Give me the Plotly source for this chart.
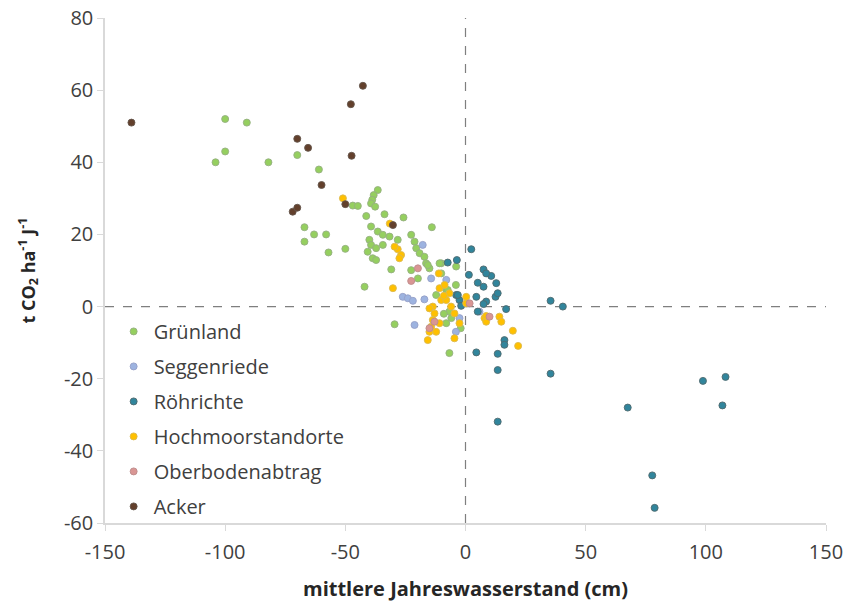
import plotly.graph_objects as go

# ---- data (x: mittlerer Jahreswasserstand cm, y: t CO2 ha-1 J-1) ----
gruen_x = [-100, -91, -100, -104, -82, -70, -61, -67, -67, -63, -58, -57, -50, -42, -14,
           -36.5, -38.2, -38.8, -39.3, -37.6, -46.9, -44.8, -41.3, -33.7, -25.8, -39.3, -36.5,
           -34.4, -31.6, -28.2, -40, -39.3, -37.2, -34.4, -40.7, -38.6, -37.2, -22.6, -21.2,
           -20.5, -19.1, -17.1, -16.4, -15, -30.9, -22.6, -10.1, -3.9, -29.5, -6.7, -10.8, -8,
           -15.7, -10.1, -19.8, -7.4, -5.9, -8, -6.7, -12.2, -4, -2, -9]
gruen_y = [52, 51, 43, 40, 40, 42, 38, 22, 18, 20, 20, 15, 16, 5.5, 22,
           32.3, 30.9, 29.6, 28.6, 27.7, 28, 27.9, 25.1, 25.6, 24.7, 22.2, 20.8,
           19.9, 19.4, 18.5, 18.5, 17.1, 16.2, 17.1, 15.2, 13.4, 12.9, 19.9, 18,
           16.2, 14.8, 13.8, 12, 10.6, 10.3, 10.1, 12, 11.1, -4.9, -12.9, 12, 4.6,
           11.5, 9.2, 7.8, 4.6, -3.2, -4.6, -1.4, 3.2, 6, -6, -2]

segg_x = [-26.1, -24, -21.9, -17.8, -14.3, -17.1, -21.2, -2.5, -8, 5.8, -4]
segg_y = [2.7, 2.3, 1.6, 17.1, 7.8, 2, -5.1, -3.2, 7.4, -1.4, -7]

roehr_x = [35.4, 40.5, 35.4, 98.8, 67.5, 77.7, 78.7, 108.2, 106.9, 4.5, 13.4, 13.4, 13.4,
           16.9, 16.2, 16.2, 2.4, 7.5, 10.7, 12.8, 12.5, 13.4, 5.1, 7.5, 4.5, 8.6, 7.5, 5.1,
           -7.4, -3.6, 1.4, -3.9, -2.5, -1.8, -3.2, 8.6]
roehr_y = [1.6, 0, -18.6, -20.6, -28, -46.8, -55.8, -19.5, -27.4, -12.7, -13.1, -17.6, -31.9,
           -0.7, -9.3, -10.6, 15.9, 10.3, 8.5, 6.5, 2.7, 3.7, 6.6, 5.5, 2.7, 1.4, 0.7, -1.4,
           12.2, 12.9, 8.8, 3.2, 1.8, 0.2, 3.2, 9.2]

hoch_x = [-28.2, -26.8, -27.5, -29.5, -51, -30.2, -11.1, -10.8, -8.7, -6.7, -10.1, -8, -13.6,
          -12.9, -13.6, -14.3, -15, -15.7, -12.2, -10.8, -4.6, 0.3, -2.5, -4.6, 0.3, 7.9, 8.6,
          14.1, 14.9, 19.7, 21.9, -15, 8.6, -9, -6, -31.5]
hoch_y = [15.9, 14.3, 13.4, 16.6, 30, 5.1, 9.2, 5.1, 6, 3.7, 1.8, 1.8, 0,
          -1.9, -3.7, -5.6, -7, -9.3, -7, -4.6, -8.8, 0.9, -4.6, -1.9, 2.7, -3.2, -4.2,
          -2.8, -4.2, -6.7, -10.9, -0.5, -2.6, 3, 0, 23]

ober_x = [-19.8, -22.6, -15, 10, 1.7, -12.9]
ober_y = [10.6, 7.1, -6, -2.8, 0.9, -4.2]

acker_x = [-139, -42.7, -47.7, -70, -65.5, -47.4, -59.9, -71.9, -70, -50, -30.2]
acker_y = [51, 61.2, 56.1, 46.5, 44, 41.8, 33.7, 26.3, 27.4, 28.4, 22.6]

series = [
    ("Grünland", gruen_x, gruen_y, "#95cf5f", "rgba(150,175,130,0.9)"),
    ("Seggenriede", segg_x, segg_y, "#9db3e0", "rgba(150,160,200,0.9)"),
    ("Röhrichte", roehr_x, roehr_y, "#31859c", "rgba(80,105,110,0.9)"),
    ("Hochmoorstandorte", hoch_x, hoch_y, "#ffc000", "rgba(220,185,80,0.9)"),
    ("Oberbodenabtrag", ober_x, ober_y, "#d99694", "rgba(190,140,140,0.9)"),
    ("Acker", acker_x, acker_y, "#63402c", "rgba(100,85,75,0.9)"),
]

x_ticks = [-150, -100, -50, 0, 50, 100, 150]
x_ticktext = ["-150", "-100", "-50", "0", "50", "100", "150"]
y_ticks = [-60, -40, -20, 0, 20, 40, 60, 80]
y_ticktext = ["-60", "-40", "-20", "0", "20", "40", "60", "80"]

fig = go.Figure()
for i, (name, xs, ys, col, edge) in enumerate(series):
    fig.add_trace(go.Scatter(
        x=xs, y=ys, mode="markers", name=name, legendgroup=str(i),
        marker=dict(size=7, color=col, line=dict(color=edge, width=1)),
    ))

font_fam = "'Open Sans', Lato, sans-serif"
fig.update_layout(
    width=853, height=605,
    margin=dict(l=105, r=27, t=18, b=82),
    paper_bgcolor="white", plot_bgcolor="white",
    font=dict(family=font_fam, size=20, color="#404040"),
    showlegend=True,
    legend=dict(x=0.012, y=0.418, xanchor="left", yanchor="top",
                bgcolor="rgba(0,0,0,0)", font=dict(size=20, color="#404040"),
                traceorder="grouped", tracegroupgap=6, itemsizing="trace"),
    xaxis=dict(range=[-150, 150], tickvals=x_ticks, ticktext=x_ticktext,
               showgrid=False, zeroline=False, automargin=False,
               showline=True, linecolor="#d9d9d9", linewidth=1.5,
               ticks="outside", ticklen=6, tickcolor="#d9d9d9", ticklabelstandoff=4,
               title=dict(text="<b>mittlere Jahreswasserstand (cm)</b>", standoff=18,
                          font=dict(size=20, color="#262626"))),
    yaxis=dict(range=[-60, 80], tickvals=y_ticks, ticktext=y_ticktext,
               showgrid=False, zeroline=False, automargin=False,
               showline=True, linecolor="#d9d9d9", linewidth=1.5,
               ticks="outside", ticklen=6, tickcolor="#d9d9d9",
               title=dict(text="<b>t CO<sub>2</sub> ha<sup>-1</sup> J<sup>-1</sup></b>", standoff=24,
                          font=dict(size=18, color="#262626"))),
)
fig.add_shape(type="line", xref="x", yref="paper", x0=0, x1=0, y0=0, y1=1,
              line=dict(color="#7f7f7f", width=1.2, dash="dash"), layer="below")
fig.add_shape(type="line", xref="paper", yref="y", x0=0, x1=1, y0=0, y1=0,
              line=dict(color="#7f7f7f", width=1.2, dash="dash"), layer="below")

fig.write_html("out.html")
